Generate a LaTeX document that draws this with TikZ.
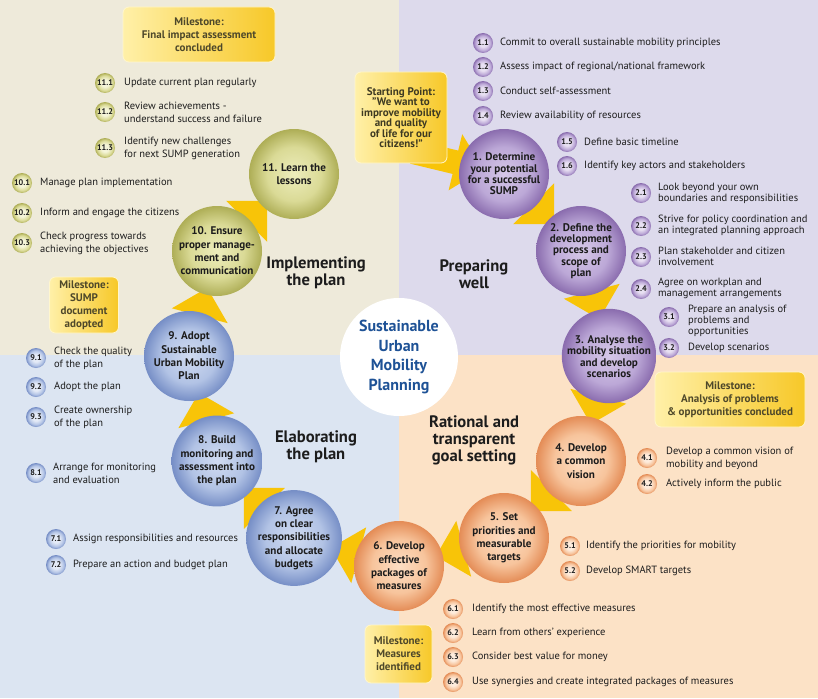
\documentclass[tikz,border=0pt]{standalone}
\usepackage{fontspec}
\setmainfont{PT Sans}
\usetikzlibrary{arrows.meta}

\definecolor{bgTL}{RGB}{238,234,218}
\definecolor{bgTR}{RGB}{221,218,236}
\definecolor{bgBL}{RGB}{220,229,242}
\definecolor{bgBR}{RGB}{252,226,198}
\definecolor{arrowY}{RGB}{248,196,8}
\definecolor{txt}{RGB}{28,28,28}
\definecolor{msTxt}{RGB}{78,72,42}
\definecolor{msL}{RGB}{255,240,168}
\definecolor{msD}{RGB}{247,200,40}
\definecolor{msB}{RGB}{255,246,205}
\definecolor{hubBlue}{RGB}{30,82,150}

\definecolor{pIn}{RGB}{214,200,232}
\definecolor{pMid}{RGB}{188,168,215}
\definecolor{pOut}{RGB}{138,108,174}
\definecolor{oIn}{RGB}{253,222,195}
\definecolor{oMid}{RGB}{247,196,156}
\definecolor{oOut}{RGB}{228,140,86}
\definecolor{bIn}{RGB}{208,219,241}
\definecolor{bMid}{RGB}{178,195,229}
\definecolor{bOut}{RGB}{118,142,198}
\definecolor{gIn}{RGB}{237,237,188}
\definecolor{gMid}{RGB}{218,218,150}
\definecolor{gOut}{RGB}{174,174,86}

\pgfdeclareradialshading{ballP}{\pgfpoint{0bp}{0bp}}{color(0bp)=(pIn); color(15bp)=(pMid); color(25bp)=(pOut); color(50bp)=(pOut)}
\pgfdeclareradialshading{ballO}{\pgfpoint{0bp}{0bp}}{color(0bp)=(oIn); color(15bp)=(oMid); color(25bp)=(oOut); color(50bp)=(oOut)}
\pgfdeclareradialshading{ballB}{\pgfpoint{0bp}{0bp}}{color(0bp)=(bIn); color(15bp)=(bMid); color(25bp)=(bOut); color(50bp)=(bOut)}
\pgfdeclareradialshading{ballG}{\pgfpoint{0bp}{0bp}}{color(0bp)=(gIn); color(15bp)=(gMid); color(25bp)=(gOut); color(50bp)=(gOut)}
\pgfdeclareradialshading{badP}{\pgfpoint{0bp}{0bp}}{color(0bp)=(pIn!55!white); color(9bp)=(pIn!55!white); color(19bp)=(pMid); color(25bp)=(pOut); color(50bp)=(pOut)}
\pgfdeclareradialshading{badO}{\pgfpoint{0bp}{0bp}}{color(0bp)=(oIn!55!white); color(9bp)=(oIn!55!white); color(19bp)=(oMid); color(25bp)=(oOut); color(50bp)=(oOut)}
\pgfdeclareradialshading{badB}{\pgfpoint{0bp}{0bp}}{color(0bp)=(bIn!55!white); color(9bp)=(bIn!55!white); color(19bp)=(bMid); color(25bp)=(bOut); color(50bp)=(bOut)}
\pgfdeclareradialshading{badG}{\pgfpoint{0bp}{0bp}}{color(0bp)=(gIn!55!white); color(9bp)=(gIn!55!white); color(19bp)=(gMid); color(25bp)=(gOut); color(50bp)=(gOut)}

\tikzset{
  stepball/.style={circle, minimum size=90pt, inner sep=0pt, align=center, text=txt,
    font=\fontsize{11.1}{13.3}\selectfont\bfseries},
  tightball/.style={font=\fontsize{11.1}{11.4}\selectfont\bfseries},
  badge/.style={circle, minimum size=20pt, inner sep=0pt, text=txt,
    font=\fontsize{8.2}{8.5}\selectfont\bfseries},
  itemtext/.style={anchor=west, align=left, inner sep=0pt, text=txt,
    font=\fontsize{10.5}{13}\selectfont},
  tightitem/.style={font=\fontsize{10.5}{11}\selectfont},
  milestone/.style={rounded corners=6pt, left color=msL, right color=msD, draw=msB,
    line width=0.8pt, align=center, text=msTxt, inner sep=0pt,
    font=\fontsize{11}{13}\selectfont\bfseries},
  phase/.style={align=center, text=txt, font=\fontsize{16.6}{17}\selectfont\bfseries},
  bigarrow/.style={draw=arrowY, line width=24pt, -{Triangle[length=29pt,width=56pt]},
    shorten >=38pt, shorten <=40pt},
}
\newcommand\sumpsub[7]{%
  \node[badge, shading=#2] (b#1) at (#3,#4) {#5};
  \node[itemtext] (t#1) at (#6,#4) {#7};
}

\begin{document}
\begin{tikzpicture}[x=1pt,y=-1pt]
% quadrants
\fill[bgTL] (0,0) rectangle (399,355);
\fill[bgTR] (399,0) rectangle (818,355);
\fill[bgBL] (0,355) rectangle (399,698);
\fill[bgBR] (399,355) rectangle (818,698);
\useasboundingbox (0,0) rectangle (818,698);

% ring positions
\coordinate (p1) at (504,174);
\coordinate (p2) at (581,251);
\coordinate (p3) at (609,356);
\coordinate (p4) at (581,461);
\coordinate (p5) at (504,538);
\coordinate (p6) at (399,566);
\coordinate (p7) at (294,538);
\coordinate (p8) at (217,461);
\coordinate (p9) at (189,356);
\coordinate (p10) at (217,251);
\coordinate (p11) at (294,174);
\coordinate (startfrom) at (413,152);

% arrows (behind the circles)
\draw[bigarrow, shorten <=0pt, shorten >=21pt] (startfrom) -- (p1);
\draw[bigarrow] (p1) -- (p2);
\draw[bigarrow] (p2) -- (p3);
\draw[bigarrow] (p3) -- (p4);
\draw[bigarrow] (p4) -- (p5);
\draw[bigarrow] (p5) -- (p6);
\draw[bigarrow] (p6) -- (p7);
\draw[bigarrow] (p7) -- (p8);
\draw[bigarrow] (p8) -- (p9);
\draw[bigarrow] (p9) -- (p10);
\draw[bigarrow] (p10) -- (p11);

% centre
\node[circle, fill=white, minimum size=118pt, inner sep=0pt, align=center, text=hubBlue,
  font=\fontsize{16}{19.5}\selectfont\bfseries] (hub) at (399,357)
  {Sustainable\\Urban\\Mobility\\Planning};

% step circles
\node[stepball, tightball, shading=ballP] (c1) at (p1) {1. Determine\\your potential\\for a successful\\SUMP};
\node[stepball, tightball, shading=ballP] (c2) at (p2) {2. Define the\\development\\process and\\scope of\\plan};
\node[stepball, tightball, shading=ballP] (c3) at (p3) {\\[-2pt]3. Analyse the\\mobility situation\\and develop\\scenarios};
\node[stepball, shading=ballO] (c4) at (p4) {4. Develop\\a common\\vision};
\node[stepball, shading=ballO] (c5) at (p5) {5. Set\\priorities and\\measurable\\targets};
\node[stepball, shading=ballO] (c6) at (p6) {6. Develop\\effective\\packages of\\measures};
\node[stepball, shading=ballB] (c7) at (p7) {7. Agree\\on clear\\responsibilities\\and allocate\\budgets};
\node[stepball, shading=ballB] (c8) at (p8) {8. Build\\monitoring and\\assessment into\\the plan};
\node[stepball, shading=ballB] (c9) at (p9) {9. Adopt\\Sustainable\\Urban Mobility\\Plan};
\node[stepball, shading=ballG] (c10) at (p10) {10. Ensure\\proper manage-\\ment and\\communication};
\node[stepball, shading=ballG] (c11) at (p11) {11. Learn the\\lessons};

% phase titles
\node[phase] (ph1) at (316,273) {Implementing\\the plan};
\node[phase] (ph2) at (474,274) {Preparing\\well};
\node[phase] (ph3) at (316,447) {Elaborating\\the plan};
\node[phase] (ph4) at (474,440) {Rational and\\transparent\\goal setting};

% milestones
\node[milestone, minimum width=152pt, minimum height=55pt] (ms1) at (199,34.5)
  {Milestone:\\Final impact assessment\\concluded};
\node[milestone, minimum width=69pt, minimum height=56pt] (ms2) at (84,305)
  {Milestone:\\SUMP\\document\\adopted};
\node[milestone, minimum width=150pt, minimum height=55pt] (ms3) at (730,399.5)
  {Milestone:\\Analysis of problems\\\& opportunities concluded};
\node[milestone, minimum width=67pt, minimum height=58pt] (ms4) at (398.5,654)
  {Milestone:\\Measures\\identified};
\node[milestone, minimum width=92pt, minimum height=91pt, text=msTxt!80!black,
  font=\fontsize{11}{10.5}\selectfont\bfseries] (start) at (401,117.5)
  {Starting Point:\\"We want to\\improve mobility\\and quality\\of life for our\\citizens!"};

% sub-steps: step 1
\sumpsub{11}{badP}{483}{43}{1.1}{500}{Commit to overall sustainable mobility principles}
\sumpsub{12}{badP}{483}{67}{1.2}{500}{Assess impact of regional/national framework}
\sumpsub{13}{badP}{483}{91}{1.3}{500}{Conduct self-assessment}
\sumpsub{14}{badP}{483}{116}{1.4}{500}{Review availability of resources}
\sumpsub{15}{badP}{567}{142}{1.5}{584}{Define basic timeline}
\sumpsub{16}{badP}{567}{166}{1.6}{584}{Identify key actors and stakeholders}
% step 2
\node[badge, shading=badP] (b21) at (641,193) {2.1};
\node[itemtext, tightitem] (t21) at (658,193) {Look beyond your own\\boundaries and responsibilities};
\node[badge, shading=badP] (b22) at (641,226) {2.2};
\node[itemtext, tightitem] (t22) at (658,225) {Strive for policy coordination and\\an integrated planning approach};
\node[badge, shading=badP] (b23) at (641,257) {2.3};
\node[itemtext, tightitem] (t23) at (658,256) {Plan stakeholder and citizen\\involvement};
\node[badge, shading=badP] (b24) at (641,289) {2.4};
\node[itemtext, tightitem] (t24) at (658,288) {Agree on workplan and\\management arrangements};
% step 3
\node[badge, shading=badP] (b31) at (669,317) {3.1};
\node[itemtext, tightitem] (t31) at (688,321) {Prepare an analysis of\\problems and\\opportunities};
\sumpsub{32}{badP}{669}{348}{3.2}{688}{Develop scenarios}
% step 4-6
\sumpsub{41}{badO}{647}{458}{4.1}{666}{Develop a common vision of\\mobility and beyond}
\sumpsub{42}{badO}{647}{484}{4.2}{666}{Actively inform the public}
\sumpsub{51}{badO}{570}{546}{5.1}{586}{Identify the priorities for mobility}
\sumpsub{52}{badO}{570}{571}{5.2}{586}{Develop SMART targets}
\sumpsub{61}{badO}{453}{609}{6.1}{472}{Identify the most effective measures}
\sumpsub{62}{badO}{453}{633}{6.2}{472}{Learn from others' experience}
\sumpsub{63}{badO}{453}{657}{6.3}{472}{Consider best value for money}
\sumpsub{64}{badO}{453}{682}{6.4}{472}{Use synergies and create integrated packages of measures}
% step 7-9
\sumpsub{71}{badB}{56}{539}{7.1}{73}{Assign responsibilities and resources}
\sumpsub{72}{badB}{56}{565}{7.2}{73}{Prepare an action and budget plan}
\sumpsub{81}{badB}{36}{473}{8.1}{53}{Arrange for monitoring\\and evaluation}
\sumpsub{91}{badB}{36}{358}{9.1}{54}{Check the quality\\of the plan}
\sumpsub{92}{badB}{36}{387}{9.2}{54}{Adopt the plan}
\sumpsub{93}{badB}{36}{417}{9.3}{54}{Create ownership\\of the plan}
% step 10-11
\sumpsub{101}{badG}{22}{183}{10.1}{40}{Manage plan implementation}
\sumpsub{102}{badG}{22}{213}{10.2}{40}{Inform and engage the citizens}
\sumpsub{103}{badG}{22}{243}{10.3}{40}{Check progress towards\\achieving the objectives}
\sumpsub{111}{badG}{105}{83}{11.1}{124}{Update current plan regularly}
\sumpsub{112}{badG}{105}{112}{11.2}{124}{Review achievements -\\understand success and failure}
\sumpsub{113}{badG}{105}{148}{11.3}{124}{Identify new challenges\\for next SUMP generation}
\end{tikzpicture}
\end{document}
